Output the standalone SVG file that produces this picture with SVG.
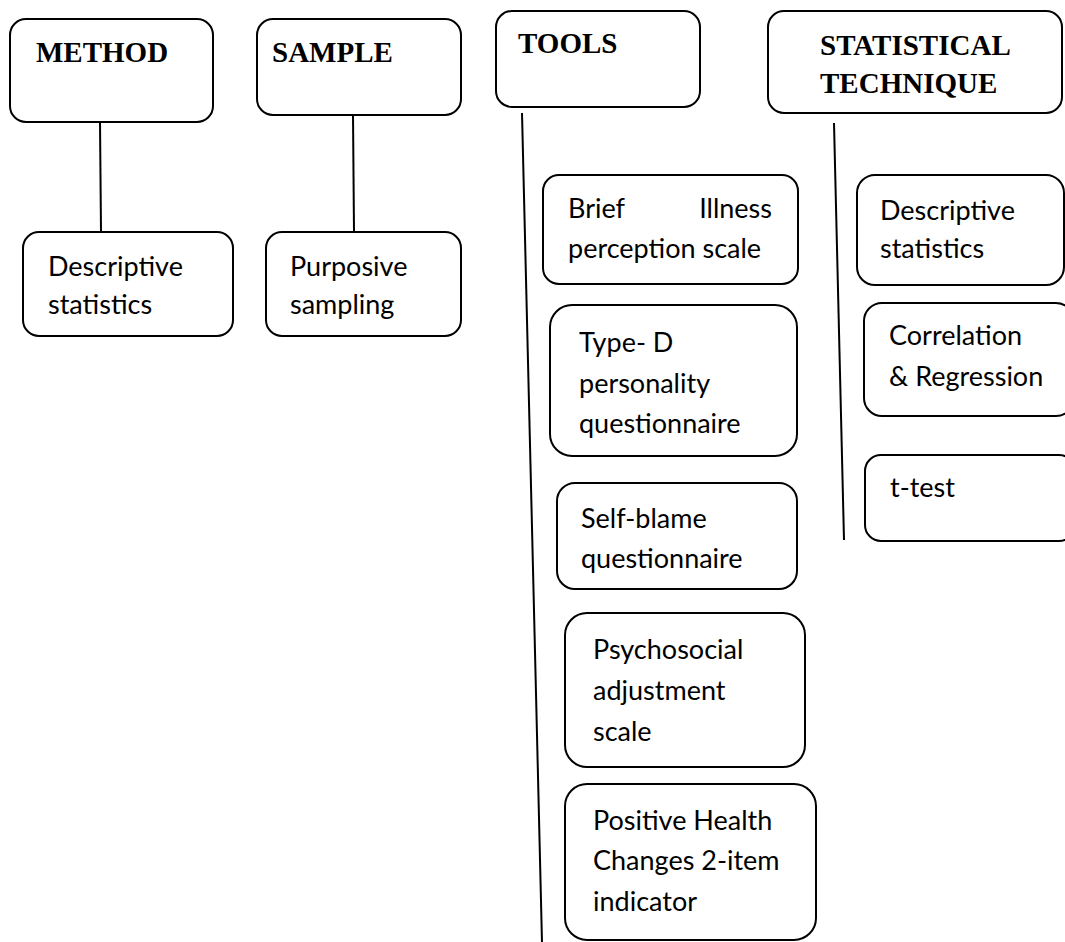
<svg xmlns="http://www.w3.org/2000/svg" width="1065" height="942" viewBox="0 0 1065 942">
<style>
.box{fill:#fff;stroke:#000;stroke-width:2}
.h{font-family:"Liberation Serif","Times New Roman",serif;font-weight:bold;font-size:29px;fill:#000}
.t{font-family:Lato,"Open Sans",sans-serif;font-size:27px;fill:#000}
.c{stroke:#000;stroke-width:2;fill:none}
</style>
<rect width="1065" height="942" fill="#fff"/>
<g id="connectors">
<line class="c" x1="100" y1="122" x2="101" y2="232"/>
<line class="c" x1="353" y1="115" x2="354" y2="232"/>
<line class="c" x1="522" y1="113" x2="542" y2="942"/>
<line class="c" x1="834" y1="123" x2="844" y2="540"/>
</g>
<g id="method"><rect class="box" x="10" y="19" width="203" height="103" rx="16"/><text class="h" x="36" y="62">METHOD</text></g>
<g id="sample"><rect class="box" x="257" y="19" width="204" height="96" rx="16"/><text class="h" x="272" y="62">SAMPLE</text></g>
<g id="tools"><rect class="box" x="496" y="11" width="204" height="96" rx="16"/><text class="h" x="518" y="53">TOOLS</text></g>
<g id="stat"><rect class="box" x="768" y="11" width="294" height="102" rx="16"/><text class="h" x="820" y="55">STATISTICAL</text><text class="h" x="820" y="93">TECHNIQUE</text></g>
<g id="desc1"><rect class="box" x="23" y="232" width="210" height="104" rx="16"/><text class="t" x="48" y="276">Descriptive</text><text class="t" x="48" y="314">statistics</text></g>
<g id="purposive"><rect class="box" x="266" y="232" width="195" height="104" rx="16"/><text class="t" x="290" y="276">Purposive</text><text class="t" x="290" y="314">sampling</text></g>
<g id="brief"><rect class="box" x="543" y="175" width="255" height="109" rx="16"/><text class="t" x="568" y="218">Brief</text><text class="t" x="772" y="218" text-anchor="end">Illness</text><text class="t" x="568" y="258">perception scale</text></g>
<g id="typed"><rect class="box" x="550" y="305" width="247" height="151" rx="22"/><text class="t" x="579" y="352">Type- D</text><text class="t" x="579" y="393">personality</text><text class="t" x="579" y="433">questionnaire</text></g>
<g id="selfblame"><rect class="box" x="557" y="483" width="240" height="106" rx="18"/><text class="t" x="581" y="528">Self-blame</text><text class="t" x="581" y="568">questionnaire</text></g>
<g id="psycho"><rect class="box" x="565" y="613" width="240" height="154" rx="22"/><text class="t" x="593" y="659">Psychosocial</text><text class="t" x="593" y="700">adjustment</text><text class="t" x="593" y="741">scale</text></g>
<g id="positive"><rect class="box" x="565" y="784" width="251" height="156" rx="22"/><text class="t" x="593" y="830">Positive Health</text><text class="t" x="593" y="870">Changes 2-item</text><text class="t" x="593" y="911">indicator</text></g>
<g id="desc2"><rect class="box" x="857" y="175" width="207" height="110" rx="18"/><text class="t" x="880" y="220">Descriptive</text><text class="t" x="880" y="258">statistics</text></g>
<g id="corr"><rect class="box" x="864" y="303" width="210" height="113" rx="18"/><text class="t" x="889" y="345">Correlation</text><text class="t" x="889" y="386">&amp; Regression</text></g>
<g id="ttest"><rect class="box" x="865" y="455" width="210" height="86" rx="16"/><text class="t" x="890" y="497">t-test</text></g>
</svg>
